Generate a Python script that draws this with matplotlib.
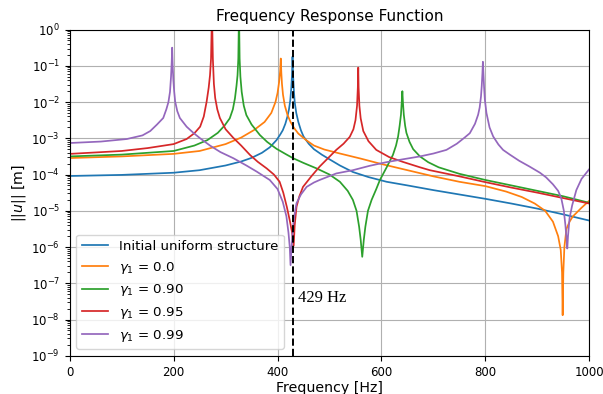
import numpy as np
import matplotlib
matplotlib.use("Agg")
import matplotlib.pyplot as plt
from matplotlib.ticker import LogLocator, NullFormatter

# Frequency [Hz] and log10 of the displacement magnitude |u| [m] for each design
freq_init = [0, 100, 200, 250, 300, 330, 350, 370, 385, 398, 405, 410, 415, 419,
             422, 424.5, 426.5, 427.8, 428.8, 430, 431.5, 433, 436, 440, 445,
             450, 460, 470, 485, 500, 520, 545, 575, 610, 650, 700, 750, 800,
             850, 900, 950, 1000]
logmag_init = [-4.04, -4.01, -3.95, -3.88, -3.75, -3.64, -3.54, -3.40, -3.25,
               -3.05, -2.90, -2.78, -2.60, -2.40, -2.20, -1.95, -1.60, -1.25,
               -0.75, -1.30, -1.70, -2.00, -2.30, -2.55, -2.78, -2.95, -3.15,
               -3.30, -3.45, -3.58, -3.75, -3.93, -4.07, -4.20, -4.30, -4.43,
               -4.55, -4.67, -4.80, -4.94, -5.10, -5.27]

freq_g00 = [0, 100, 200, 250, 300, 330, 355, 375, 388, 396, 400, 403, 405,
            406.2, 407.3, 408.5, 410.5, 414, 419, 425, 432, 440, 455, 470, 490,
            520, 560, 600, 650, 700, 750, 800, 840, 870, 895, 915, 930, 940,
            945, 947.5, 948.7, 950, 952, 956, 962, 968, 984, 1000]
logmag_g00 = [-3.545, -3.50, -3.43, -3.35, -3.16, -2.98, -2.77, -2.55, -2.30,
              -2.00, -1.75, -1.45, -1.15, -0.80, -1.20, -1.50, -1.80, -2.10,
              -2.35, -2.55, -2.72, -2.87, -3.05, -3.20, -3.31, -3.42, -3.56,
              -3.71, -3.88, -4.05, -4.20, -4.32, -4.47, -4.62, -4.80, -5.00,
              -5.30, -5.70, -6.08, -6.70, -7.88, -6.70, -6.00, -5.50, -5.30,
              -5.16, -4.93, -4.72]

freq_g90 = [0, 100, 200, 240, 265, 285, 298, 308, 314, 318, 321, 323, 324.5,
            325.8, 327, 328.5, 331, 335, 340, 350, 366, 380, 398, 415, 430, 450,
            475, 500, 520, 535, 545, 552, 557, 560, 563, 566, 569, 574, 581, 590,
            597, 610, 622, 628, 632, 635, 637.5, 639, 640.2, 641.5, 643, 645.5,
            648, 654, 661, 674, 690, 710, 750, 800, 850, 900, 950, 1000]
logmag_g90 = [-3.50, -3.45, -3.35, -3.20, -3.05, -2.85, -2.65, -2.45, -2.20,
              -1.90, -1.55, -1.26, -0.80, 0.50, -0.80, -1.30, -1.72, -2.10,
              -2.36, -2.62, -2.91, -3.10, -3.29, -3.43, -3.55, -3.68, -3.83,
              -4.00, -4.20, -4.45, -4.70, -5.00, -5.44, -5.80, -6.27, -5.80,
              -5.44, -5.00, -4.70, -4.40, -4.15, -3.80, -3.46, -3.20, -2.95,
              -2.65, -2.35, -2.00, -1.70, -2.05, -2.35, -2.65, -2.85, -3.10,
              -3.30, -3.50, -3.66, -3.80, -3.98, -4.15, -4.30, -4.45, -4.60,
              -4.78]

freq_g95 = [0, 100, 150, 200, 225, 240, 251, 258, 263.5, 267.5, 270, 272,
            273.8, 275.5, 277.5, 280, 284, 289, 300, 315, 330, 347, 362, 379,
            393, 404, 411, 418, 424, 428, 431, 433, 436.5, 442, 449, 465, 481,
            497, 513, 527, 539, 546, 550, 553, 554.5, 555.3, 556, 557.5, 560,
            565, 575, 590, 615, 641, 674, 693, 750, 800, 850, 900, 950, 1000]
logmag_g95 = [-3.43, -3.35, -3.27, -3.16, -3.02, -2.86, -2.68, -2.40, -1.99,
              -1.60, -1.26, -0.80, 0.50, -0.80, -1.50, -1.89, -2.20, -2.44,
              -2.75, -2.99, -3.20, -3.46, -3.65, -3.83, -4.00, -4.20, -4.50,
              -4.90, -5.30, -5.60, -5.97, -5.40, -4.89, -4.60, -4.34, -4.05,
              -3.78, -3.55, -3.32, -3.15, -2.96, -2.75, -2.50, -2.10, -1.60,
              -1.05, -1.60, -2.10, -2.45, -2.80, -3.08, -3.32, -3.52, -3.65,
              -3.80, -3.88, -4.05, -4.21, -4.36, -4.50, -4.65, -4.80]

freq_g99 = [0, 60, 110, 140, 155, 168, 180, 186, 190, 193, 195, 196.3, 197.2,
            198.2, 199.5, 201, 203, 207, 212, 225, 238, 251, 270, 290, 315, 340,
            360, 385, 400, 410, 417, 421, 423.5, 425, 427, 429, 431, 434, 436.5,
            445, 456, 470, 481, 513, 545, 577, 609, 641, 674, 700, 725, 745,
            760, 770, 780, 786, 789, 791.5, 793, 794.3, 795.2, 796.2, 797.5,
            799, 802, 808, 815, 825, 834, 847, 865, 885, 905, 917, 930, 940,
            946, 951, 954, 956, 957.6, 959, 962, 967, 975, 985, 1000]
logmag_g99 = [-3.13, -3.09, -3.02, -2.92, -2.80, -2.62, -2.44, -2.20, -2.00,
              -1.72, -1.30, -0.90, -0.50, -1.00, -1.40, -1.70, -1.99, -2.25,
              -2.44, -2.68, -2.85, -3.00, -3.20, -3.38, -3.55, -3.75, -3.92,
              -4.15, -4.40, -4.75, -5.15, -5.60, -6.00, -6.50, -6.00, -5.60,
              -5.26, -5.00, -4.79, -4.55, -4.34, -4.22, -4.15, -3.97, -3.88,
              -3.76, -3.66, -3.58, -3.50, -3.42, -3.32, -3.15, -2.98, -2.86,
              -2.60, -2.35, -2.15, -1.85, -1.55, -1.20, -0.89, -1.20, -1.60,
              -1.94, -2.30, -2.70, -2.95, -3.17, -3.32, -3.45, -3.62, -3.78,
              -3.95, -4.08, -4.27, -4.45, -4.65, -5.00, -5.40, -5.75, -6.04,
              -5.70, -5.20, -4.85, -4.43, -4.12, -3.85]

labels = ["Initial uniform structure", r"$\gamma_1$ = 0.0", r"$\gamma_1$ = 0.90",
          r"$\gamma_1$ = 0.95", r"$\gamma_1$ = 0.99"]
freqs = [freq_init, freq_g00, freq_g90, freq_g95, freq_g99]
logmags = [logmag_init, logmag_g00, logmag_g90, logmag_g95, logmag_g99]
colors = ["#1f77b4", "#ff7f0e", "#2ca02c", "#d62728", "#9467bd"]

f_target = 429

fig = plt.figure(figsize=(6.03, 3.94), dpi=100)
ax = fig.add_axes([0.1156, 0.097, 0.8617, 0.828])

for label, f, lm, c in zip(labels, freqs, logmags, colors):
    ax.plot(f, 10.0 ** np.asarray(lm), color=c, lw=1.25, label=label)

ax.axvline(f_target, color="black", ls="--", lw=1.4)
ax.text(440, 3e-8, f"{f_target} Hz", family="Liberation Serif", fontsize=12)

ax.set_yscale("log")
ax.set_xlim(0, 1000)
ax.set_ylim(1e-9, 1e0)
ax.set_xticks([0, 200, 400, 600, 800, 1000])
ax.set_yticks(10.0 ** np.arange(-9, 1))
ax.yaxis.set_minor_locator(LogLocator(base=10, subs=np.arange(2, 10), numticks=20))
ax.yaxis.set_minor_formatter(NullFormatter())
ax.tick_params(labelsize=8.5)
ax.grid(True, which="major", color="#b0b0b0", lw=0.8)

ax.set_title("Frequency Response Function", fontsize=11)
ax.set_xlabel("Frequency [Hz]", fontsize=10.2, labelpad=2)
ax.set_ylabel(r"$||u||$ [m]", fontsize=10.2, labelpad=2)
ax.legend(loc="lower left", fontsize=9.6)

fig.savefig("out.png", dpi=100)
